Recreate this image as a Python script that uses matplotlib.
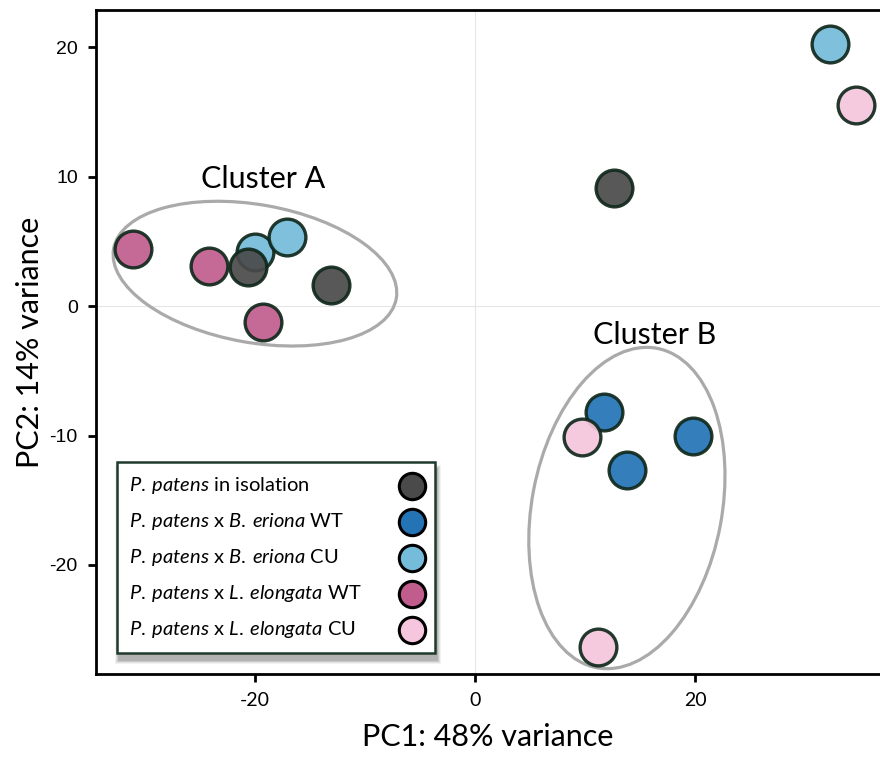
import matplotlib.pyplot as plt
from matplotlib.patches import Ellipse, Rectangle
from matplotlib.lines import Line2D
from matplotlib.transforms import ScaledTranslation

plt.rcParams['font.family'] = ['Lato', 'DejaVu Sans']
plt.rcParams['mathtext.fontset'] = 'custom'
plt.rcParams['mathtext.rm'] = 'Lato'
plt.rcParams['mathtext.it'] = 'Lato:italic'

# PCA scores, one pair of lists per group
iso_x = [-20.6, -13.1, 12.6]
iso_y = [3.0, 1.6, 9.1]
bwt_x = [11.7, 19.8, 13.8]
bwt_y = [-8.2, -10.0, -12.7]
bcu_x = [-20.0, -17.1, 32.3]
bcu_y = [4.2, 5.3, 20.2]
lwt_x = [-31.1, -24.2, -19.3]
lwt_y = [4.4, 3.1, -1.2]
lcu_x = [9.7, 11.2, 34.6]
lcu_y = [-10.1, -26.3, 15.5]

labels = [r"$\mathit{P.\:patens}$ in isolation",
          r"$\mathit{P.\:patens}$ x $\mathit{B.\:eriona}$ WT",
          r"$\mathit{P.\:patens}$ x $\mathit{B.\:eriona}$ CU",
          r"$\mathit{P.\:patens}$ x $\mathit{L.\:elongata}$ WT",
          r"$\mathit{P.\:patens}$ x $\mathit{L.\:elongata}$ CU"]
colors = ["#4a4a4a", "#2373b5", "#74bcd9", "#c05d8d", "#f5c6dd"]
edge = "#10281b"

fig = plt.figure(figsize=(8.8, 7.57), dpi=100)
ax = fig.add_axes([0.109, 0.1096, 0.891, 0.8772])

ax.axhline(0, color="#e6e6e6", lw=0.8, zorder=0)
ax.axvline(0, color="#e6e6e6", lw=0.8, zorder=0)

# cluster outlines, sized in inches around a data-space centre
def cluster(cx, cy, w, h, ang):
    tr = fig.dpi_scale_trans + ScaledTranslation(cx, cy, ax.transData)
    e = Ellipse((0, 0), w, h, angle=ang, transform=tr, fill=False,
                edgecolor="#aaaaaa", lw=2.3, zorder=1)
    ax.add_patch(e)

cluster(-20.0, 2.5, 2.87, 1.38, -10)
cluster(13.8, -15.6, 3.25, 1.90, 79.3)

ax.text(-19.3, 8.7, "Cluster A", fontsize=22, ha="center", va="bottom")
ax.text(16.3, -3.3, "Cluster B", fontsize=22, ha="center", va="bottom")

order = [(bcu_x, bcu_y, 2), (iso_x, iso_y, 0), (bwt_x, bwt_y, 1),
         (lwt_x, lwt_y, 3), (lcu_x, lcu_y, 4)]
for xs, ys, ci in order:
    ax.scatter(xs, ys, s=700, c=colors[ci], edgecolors=edge, linewidths=2.4,
               alpha=0.92, zorder=3, clip_on=False)

ax.set_xlim(-34.45, 36.8)
ax.set_ylim(-28.42, 22.86)
ax.set_xticks([-20, 0, 20])
ax.set_yticks([-20, -10, 0, 10, 20])
ax.set_xticklabels(["-20", "0", "20"], fontsize=14)
ax.set_yticklabels(["-20", "-10", "0", "10", "20"], fontsize=14,
                   family="Liberation Sans")
ax.tick_params(length=6, width=2, color="black", pad=7)
for s in ["left", "bottom", "top"]:
    ax.spines[s].set_linewidth(2)
ax.spines["right"].set_visible(False)
ax.set_xlabel("PC1: 48% variance", fontsize=22, labelpad=10)
ax.set_ylabel("PC2: 14% variance", fontsize=22, labelpad=4)

# legend box drawn by hand in figure pixels (text left, markers right)
def px(x, y):
    return x / 100, (757 - y) / 100

pt = fig.dpi_scale_trans
x0, y0 = px(117, 653)
for k, a in enumerate([0.05, 0.07, 0.09, 0.12]):
    d = 0.02 * (4 - k)
    fig.add_artist(Rectangle((x0 + 0.02 - d / 2, y0 - 0.07 - d / 2),
                             3.18 + d, 1.91 + d, transform=pt,
                             facecolor="#000000", alpha=a, lw=0, zorder=4))
fig.add_artist(Rectangle((x0, y0), 3.18, 1.91, transform=pt,
                         facecolor="white", edgecolor="#1f3a2a", lw=1.8, zorder=5))
for i, lab in enumerate(labels):
    ty = 486 + i * 36
    tx, tyy = px(129, ty)
    fig.text(tx / 8.8, tyy / 7.57, lab, fontsize=14.5, va="center", ha="left",
             zorder=6)
    mx, my = px(412, ty)
    fig.add_artist(Line2D([mx], [my], marker="o", ms=19, mfc=colors[i],
                          mec="black", mew=2.2, transform=pt, zorder=7))

fig.savefig("out.png", dpi=100)
